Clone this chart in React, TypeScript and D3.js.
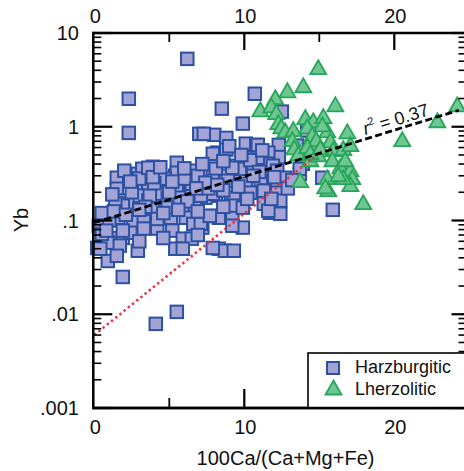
import React from "react";
import * as d3 from "d3";

const harzburgitic: [number, number][] = [
  [6.2,5.3],[2.3,1.99],[2.3,0.86],[10.7,2.25],[8.5,1.56],[12.5,1.45],[9.9,1.08],[7.0,0.84],[8.0,0.82],[8.8,0.76],
  [10.1,0.66],[10.8,0.64],[12.3,0.64],[8.2,0.53],[8.8,0.57],[10.1,0.467],[12.3,0.475],[11.6,0.53],[5.5,0.413],[6.6,0.34],
  [7.9,0.356],[9.5,0.384],[10.6,0.374],[11.5,0.403],[1.5,0.286],[2.9,0.315],[3.9,0.374],[4.3,0.315],[5.4,0.30],[7.2,0.253],
  [8.4,0.30],[9.3,0.30],[11.1,0.265],[1.5,0.218],[2.9,0.247],[3.6,0.223],[4.7,0.235],[5.5,0.223],[6.4,0.208],[8.1,0.184],
  [9.1,0.155],[9.9,0.151],[10.5,0.198],[11.5,0.208],[12.3,0.229],[1.9,0.163],[2.9,0.184],[2.2,0.151],[3.6,0.163],[4.2,0.133],
  [4.9,0.163],[5.9,0.137],[7.4,0.175],[6.7,0.144],[11.3,0.151],[11.7,0.121],[12.4,0.118],[0.6,0.092],[1.6,0.107],[2.6,0.099],
  [3.3,0.107],[3.9,0.133],[5.1,0.107],[6.1,0.107],[6.6,0.092],[7.9,0.112],[9.2,0.118],[9.9,0.084],[1.1,0.065],[1.9,0.065],
  [2.4,0.074],[3.3,0.082],[4.2,0.082],[5.2,0.078],[5.9,0.064],[6.5,0.064],[0.2,0.051],[0.9,0.058],[1.7,0.054],[2.9,0.0476],
  [5.4,0.050],[8.3,0.050],[8.7,0.0476],[3.2,0.356],[4.2,0.323],[5.5,0.323],[4.7,0.279],[4.4,0.193],[3.7,0.184],[4.9,0.175],
  [4.9,0.137],[5.7,0.175],[6.5,0.184],[6.5,0.247],[8.1,0.356],[7.9,0.193],[7.9,0.515],[1.9,0.144],[1.4,0.151],[1.9,0.078],
  [0.9,0.037],[4.2,0.104],[7.2,0.084],[7.9,0.051],[0.4,0.050],[1.9,0.025],[5.5,0.0106],[4.1,0.0079],[9.3,0.0476],[15.9,0.130],
  [5.9,0.050],[10.9,0.467],[11.9,0.384],[12.2,0.34],[9.7,0.356],[9.2,0.365],[7.9,0.265],[8.9,0.265],[10.1,0.247],[12.2,0.253],
  [12.7,0.286],[13.7,0.315],[13.9,0.403],[7.1,0.184],[9.3,0.175],[11.3,0.208],[12.2,0.198],[12.4,0.163],[9.2,0.144],[9.9,0.137],
  [8.3,0.107],[9.2,0.088],[7.1,0.092],[14.2,0.91],[13.7,0.356],[15.2,0.286],[14.7,0.555],[13.5,0.63],[0.3,0.088],[0.5,0.072],
  [1.0,0.10],[0.8,0.078],[2.5,0.20],[3.0,0.28],[4.0,0.25],[5.0,0.20],[6.0,0.28],[6.9,0.30],[7.6,0.22],[8.6,0.21],
  [3.4,0.14],[6.2,0.16],[3.6,0.365],[7.3,0.84],[7.4,0.253],[10.4,0.198],[11.6,0.127],[7.7,0.112],[10.9,0.64],[9.0,0.62],
  [10.4,0.44],[11.0,0.33],[3.9,0.29],[2.0,0.34],[2.4,0.26],[1.2,0.19],[0.5,0.12],[1.3,0.125],[2.1,0.115],[3.0,0.13],
  [4.6,0.12],[5.6,0.13],[6.9,0.125],[8.6,0.14],[10.2,0.17],[11.8,0.17],[12.9,0.22],[13.2,0.27],[12.0,0.29],[10.6,0.30],
  [9.6,0.23],[8.2,0.24],[6.8,0.22],[5.2,0.26],[4.4,0.37],[6.0,0.36],[7.2,0.40],[8.6,0.43],[9.8,0.50],[11.2,0.56],
  [3.0,0.06],[4.6,0.065],[6.9,0.07],[1.5,0.042]
];

const lherzolitic: [number, number][] = [
  [14.93,4.16],[13.93,2.67],[12.87,2.36],[12.07,1.99],[11.07,1.48],[11.8,1.63],[12.13,1.38],[12.27,1.08],[12.47,0.975],[12.73,0.88],
  [13.27,0.91],[14.07,1.22],[14.6,1.13],[14.2,0.975],[15.27,1.25],[16.07,1.67],[14.53,0.80],[15.53,0.88],[16.87,0.86],[15.73,0.69],
  [14.8,0.71],[13.2,0.71],[15.93,0.555],[16.6,0.57],[17.07,0.63],[15.87,0.434],[16.4,0.365],[17.07,0.34],[17.2,0.279],[17.07,0.235],
  [15.53,0.279],[15.6,0.208],[17.93,0.151],[13.73,0.26],[13.33,0.58],[13.6,0.50],[14.4,0.434],[14.93,0.49],[14.2,0.60],[20.53,0.71],
  [22.87,1.13],[24.2,1.67],[16.6,0.279],[14.4,0.515],[15.2,1.02],[15.4,0.223],[15.07,0.58],[16.73,0.434],[16.27,0.30]
];

// regression lines: [x, Yb] end points
const fitAll: [number, number][] = [[0, 0.0946], [24.3, 1.5]];
const fitRed: [number, number][] = [[0, 0.006], [15.13, 0.548]];

const yMajor = [0.001, 0.01, 0.1, 1, 10];
const yMajorLabels = [".001", ".01", ".1", "1", "10"];
const xMajor = [0, 10, 20];
const xMajorLabels = ["0", "10", "20"];
const xMinor = [5, 15];
const r2Label = "0.37";

const FONT = "Liberation Sans, Arial, Helvetica, sans-serif";
const SQ_FILL = "#a3a3d5";
const SQ_STROKE = "#2c51a3";
const TR_FILL = "#70c692";
const TR_STROKE = "#25a659";

export default function App() {
  const x = d3.scaleLinear().domain([0, 24.7]).range([94.3, 464.8]);
  const y = d3.scaleLog().domain([0.001, 10]).range([408, 33]);
  const left = 93.3, right = 465.5, top = 33, bottom = 408;
  const yAll = y.ticks();
  const isMajor = (v: number) => yMajor.some((m) => Math.abs(m - v) / m < 1e-6);
  const line = d3.line<[number, number]>().x((d) => x(d[0])).y((d) => y(d[1]));
  const tri = "M0,-8.5L8,5.5L-8,5.5Z";
  const s = 12.5;

  const angle = (Math.atan2(y(fitAll[1][1]) - y(fitAll[0][1]), x(fitAll[1][0]) - x(fitAll[0][0])) * 180) / Math.PI;
  const lx = x(18.07);
  const ly = y(fitAll[0][1]) + (y(fitAll[1][1]) - y(fitAll[0][1])) * (18.07 / 24.3) - 4;

  return (
    <svg width={464} height={471} style={{ position: "absolute", left: 0, top: 0, background: "#fff" }} fontFamily={FONT}>
      {harzburgitic.map((d, i) => (
        <rect key={"h" + i} x={x(d[0]) - s / 2} y={y(d[1]) - s / 2} width={s} height={s} fill={SQ_FILL} stroke={SQ_STROKE} strokeWidth={2} />
      ))}
      {lherzolitic.map((d, i) => (
        <path key={"l" + i} d={tri} transform={`translate(${x(d[0])},${y(d[1])})`} fill={TR_FILL} stroke={TR_STROKE} strokeWidth={1.8} />
      ))}
      <path d={line(fitRed) || ""} fill="none" stroke="#ee3340" strokeWidth={2.6} strokeDasharray="2.4 3" />
      <path d={line(fitAll) || ""} fill="none" stroke="#000" strokeWidth={2.8} strokeDasharray="7 3.5" />
      <text transform={`translate(${lx},${ly}) rotate(${angle})`} fontSize={18} fill="#111">
        <tspan fontStyle="italic">r</tspan>
        <tspan fontSize={11} dy={-8}>2</tspan>
        <tspan dy={8}>{` = ${r2Label}`}</tspan>
      </text>

      <line x1={left} x2={left} y1={top - 1.2} y2={bottom + 1.2} stroke="#000" strokeWidth={2.5} />
      <line x1={left} x2={right} y1={top} y2={top} stroke="#000" strokeWidth={2.5} />
      <line x1={left} x2={right} y1={bottom} y2={bottom} stroke="#000" strokeWidth={2.5} />
      <line x1={right} x2={right} y1={top} y2={bottom} stroke="#000" strokeWidth={2.5} />

      {yAll.map((v, i) => {
        const maj = isMajor(v);
        const yy = y(v);
        return (
          <g key={"yt" + i}>
            <line x1={left} x2={left + (maj ? 19 : 8)} y1={yy} y2={yy} stroke="#000" strokeWidth={maj ? 2.2 : 1.6} />
            <line x1={right} x2={right - (maj ? 14 : 7)} y1={yy} y2={yy} stroke="#000" strokeWidth={maj ? 2.2 : 1.6} />
          </g>
        );
      })}
      {yMajor.map((v, i) => (
        <text key={"yl" + i} x={79} y={y(v)} dy="0.36em" textAnchor="end" fontSize={20} fill="#111">{yMajorLabels[i]}</text>
      ))}

      {xMajor.filter((v) => v > 0).map((v, i) => (
        <g key={"xm" + i}>
          <line x1={x(v)} x2={x(v)} y1={top} y2={top + 17} stroke="#000" strokeWidth={2.2} />
          <line x1={x(v)} x2={x(v)} y1={bottom} y2={bottom - 19} stroke="#000" strokeWidth={2.2} />
        </g>
      ))}
      {xMinor.map((v, i) => (
        <g key={"xn" + i}>
          <line x1={x(v)} x2={x(v)} y1={top} y2={top + 9} stroke="#000" strokeWidth={1.8} />
          <line x1={x(v)} x2={x(v)} y1={bottom} y2={bottom - 10} stroke="#000" strokeWidth={1.8} />
        </g>
      ))}
      {xMajor.map((v, i) => (
        <g key={"xl" + i}>
          <text x={x(v) + 1} y={23} textAnchor="middle" fontSize={20} fill="#111">{xMajorLabels[i]}</text>
          <text x={x(v) + 1} y={434} textAnchor="middle" fontSize={20} fill="#111">{xMajorLabels[i]}</text>
        </g>
      ))}

      <text x={285.5} y={465} textAnchor="middle" fontSize={20} fill="#111">100Ca/(Ca+Mg+Fe)</text>
      <text transform="translate(28,220) rotate(-90)" textAnchor="middle" fontSize={20} fill="#111">Yb</text>

      <rect x={308} y={353} width={170} height={55} fill="#fff" stroke="#000" strokeWidth={1.6} />
      <line x1={left} x2={right} y1={bottom} y2={bottom} stroke="#000" strokeWidth={2.5} />
      <rect x={327} y={362} width={12} height={12} fill={SQ_FILL} stroke={SQ_STROKE} strokeWidth={2} />
      <path d={tri} transform="translate(333.5,389)" fill={TR_FILL} stroke={TR_STROKE} strokeWidth={1.8} />
      <text x={355} y={372.5} fontSize={18} fill="#111">Harzburgitic</text>
      <text x={355} y={395} fontSize={18} fill="#111">Lherzolitic</text>
    </svg>
  );
}
